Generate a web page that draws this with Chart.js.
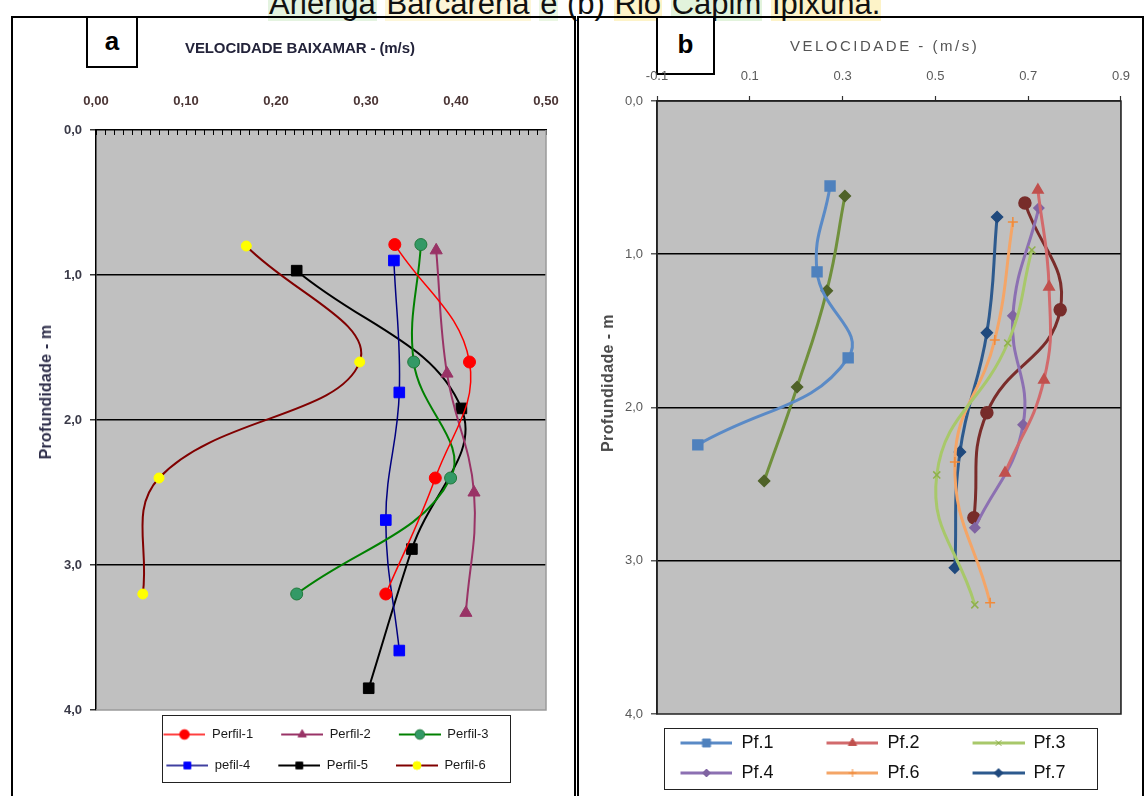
<!DOCTYPE html>
<html>
<head>
<meta charset="utf-8">
<script src="https://cdn.jsdelivr.net/npm/chart.js@4.4.1/dist/chart.umd.min.js"></script>
<style>
  html, body { margin:0; padding:0; background:#fff; width:1144px; height:796px; overflow:hidden; }
  #page { position:relative; width:1144px; height:796px; font-family:"Liberation Sans", Arial, sans-serif; }
  .frame { position:absolute; border:2px solid #000; box-sizing:border-box; }
  .tag { position:absolute; border:2px solid #000; box-sizing:border-box; background:#fff;
         font:bold 26px "Liberation Sans", Arial, sans-serif; text-align:center; color:#000; }
  .lbox { position:absolute; border:1.5px solid #222; box-sizing:border-box; background:#fff; }
  .txt { position:absolute; white-space:nowrap; }
  .rot { position:absolute; white-space:nowrap; transform:translate(-50%,-50%) rotate(-90deg); }
  canvas { position:absolute; }
  #caption { position:absolute; left:268px; top:-12px; font:31px "Liberation Sans", Arial, sans-serif; color:#111; white-space:nowrap; line-height:31px; }
  #caption span { padding:0 1px; }
</style>
</head>
<body>
<div id="page">
  <div id="caption"><span style="background:#e4f3e0">Arienga</span> <span style="background:#fdf6d8">Barcarena</span> <span style="background:#eaf6e2">e</span> (b) <span style="background:#fdf3c8">Rio</span> <span style="background:#e2f3dc">Capim</span> <span style="background:#fdf3c8">Ipixuna.</span></div>

  <div class="frame" style="left:11px; top:16px; width:565px; height:800px;"></div>
  <div class="frame" style="left:577px; top:16px; width:567px; height:800px;"></div>

  <div class="lbox" style="left:162px; top:715px; width:349px; height:68px;"></div>
  <div class="lbox" style="left:664px; top:728px; width:434px; height:62px;"></div>

  <div class="tag" style="left:86px; top:16px; width:52px; height:52px; line-height:46px;">a</div>
  <div class="tag" style="left:656px; top:16px; width:59px; height:59px; line-height:52px;">b</div>

  <canvas id="chartA" width="600" height="776" style="left:14px; top:20px;"></canvas>
  <canvas id="chartB" width="562" height="776" style="left:580px; top:20px;"></canvas>

  <div class="txt" style="left:185px; top:39px; font:bold 15px 'Liberation Sans Narrow','Liberation Sans',Arial,sans-serif; color:#23233a; letter-spacing:-0.1px;">VELOCIDADE BAIXAMAR - (m/s)</div>
  <div class="rot" style="left:46px; top:392px; font:bold 16px 'Liberation Sans Narrow','Liberation Sans',Arial,sans-serif; color:#2e2e4a; letter-spacing:0.2px;">Profundidade - m</div>

  <div class="txt" style="left:790px; top:37px; font:15px 'Liberation Sans',Arial,sans-serif; color:#555; letter-spacing:2.5px;">VELOCIDADE - (m/s)</div>
  <div class="rot" style="left:608px; top:383px; font:bold 16px 'Liberation Sans Narrow','Liberation Sans',Arial,sans-serif; color:#4a4a4a; letter-spacing:0.4px;">Profundidade - m</div>
</div>

<script>
// ================= DATA =================
// shared depth-axis tick labels (m)
const depthTickLabels = ['0,0', '1,0', '2,0', '3,0', '4,0'];

// ---- panel (a): VELOCIDADE BAIXAMAR (m/s) vs depth (m) ----
const velTickLabelsA = ['0,00', '0,10', '0,20', '0,30', '0,40', '0,50'];
const seriesNamesA = ['Perfil-1', 'Perfil-2', 'Perfil-3', 'pefil-4', 'Perfil-5', 'Perfil-6'];

const perfil1Vel   = [0.332, 0.415, 0.377, 0.322];
const perfil1Depth = [0.79, 1.60, 2.40, 3.20];
const perfil2Vel   = [0.378, 0.390, 0.420, 0.411];
const perfil2Depth = [0.83, 1.68, 2.50, 3.33];
const perfil3Vel   = [0.361, 0.353, 0.394, 0.223];
const perfil3Depth = [0.79, 1.60, 2.40, 3.20];
const perfil4Vel   = [0.331, 0.337, 0.322, 0.337];
const perfil4Depth = [0.90, 1.81, 2.69, 3.59];
const perfil5Vel   = [0.223, 0.406, 0.351, 0.303];
const perfil5Depth = [0.97, 1.92, 2.89, 3.85];
const perfil6Vel   = [0.167, 0.293, 0.070, 0.052];
const perfil6Depth = [0.80, 1.60, 2.40, 3.20];

// ---- panel (b): VELOCIDADE (m/s) vs depth (m) ----
const velTickLabelsB = ['-0.1', '0.1', '0.3', '0.5', '0.7', '0.9'];
const seriesNamesB = ['Pf.1', 'Pf.2', 'Pf.3', 'Pf.4', 'Pf.6', 'Pf.7', 'Pf.5', 'Pf.8'];
const legendShownB = [true, true, true, true, true, true, false, false];

const pf1Vel   = [0.273, 0.245, 0.312, -0.012];
const pf1Depth = [0.555, 1.115, 1.676, 2.244];
const pf2Vel   = [0.721, 0.745, 0.734, 0.650];
const pf2Depth = [0.581, 1.213, 1.820, 2.427];
const pf3Vel   = [0.708, 0.656, 0.503, 0.585];
const pf3Depth = [0.972, 1.579, 2.440, 3.288];
const pf4Vel   = [0.723, 0.667, 0.689, 0.585];
const pf4Depth = [0.698, 1.402, 2.113, 2.785];
const pf6Vel   = [0.667, 0.628, 0.542, 0.618];
const pf6Depth = [0.789, 1.559, 2.355, 3.275];
const pf7Vel   = [0.633, 0.611, 0.553, 0.542];
const pf7Depth = [0.757, 1.513, 2.290, 3.046];
const pf5Vel   = [0.693, 0.769, 0.611, 0.583];
const pf5Depth = [0.665, 1.363, 2.035, 2.720];
const pf8Vel   = [0.305, 0.266, 0.202, 0.131];
const pf8Depth = [0.620, 1.239, 1.866, 2.479];

// ================= STYLES =================
const styleA = [
  { line:'#FF0000', w:1.5, mk:'circle',   r:6,   fill:'#FF0000', edge:'#FF0000' },
  { line:'#993366', w:2,   mk:'triangle', r:7,   fill:'#993366', edge:'#993366' },
  { line:'#008000', w:2,   mk:'circle',   r:6,   fill:'#339966', edge:'#1f7a3a' },
  { line:'#000080', w:1.5, mk:'rect',     r:7.5, fill:'#0000FF', edge:'#0000FF' },
  { line:'#000000', w:2,   mk:'rect',     r:7.5, fill:'#000000', edge:'#000000' },
  { line:'#800000', w:2,   mk:'circle',   r:5,   fill:'#FFFF00', edge:'#FFFF00' }
];
const styleB = [
  { line:'#5A8AC6', w:3, mk:'rect',     r:7,   fill:'#4F81BD', edge:'#4F81BD' },
  { line:'#D26A6C', w:3, mk:'triangle', r:6,   fill:'#C0504D', edge:'#C0504D' },
  { line:'#A8C86A', w:3, mk:'crossRot', r:5,   fill:'#9BBB59', edge:'#8FB04C' },
  { line:'#8C70B2', w:3, mk:'rectRot',  r:5,   fill:'#8064A2', edge:'#8064A2' },
  { line:'#F4A567', w:3, mk:'cross',    r:5,   fill:'#F79646', edge:'#F08A3A' },
  { line:'#2D5A8E', w:3, mk:'rectRot',  r:5.5, fill:'#1F497D', edge:'#1F497D' },
  { line:'#7A2C2A', w:3, mk:'circle',   r:6,   fill:'#772C2A', edge:'#772C2A' },
  { line:'#70903C', w:3, mk:'rectRot',  r:5.5, fill:'#4F6228', edge:'#4F6228' }
];

// ================= HELPERS =================
function pairs(vel, depth) { return vel.map((v, i) => ({ x: v, y: depth[i] })); }

function legendImage(width, height, blank, st) {
  const c = document.createElement('canvas');
  c.width = width; c.height = height;
  const g = c.getContext('2d');
  const y = height / 2;
  g.strokeStyle = st.line; g.lineWidth = st.w;
  g.beginPath(); g.moveTo(blank, y); g.lineTo(width, y); g.stroke();
  g.fillStyle = st.fill; g.strokeStyle = st.edge; g.lineWidth = 1;
  const r = Math.min(st.r, height / 2 - 1) * 0.8;
  if (Chart.helpers && Chart.helpers.drawPoint) {
    Chart.helpers.drawPoint(g, { pointStyle: st.mk, radius: r, rotation: 0, borderWidth: 1.5 }, (blank + width) / 2, y);
  } else {
    g.beginPath(); g.arc((blank + width) / 2, y, r, 0, Math.PI * 2); g.fill();
  }
  return c;
}

const plotFrame = {
  id: 'plotFrame',
  beforeDraw(chart, args, o) {
    const { ctx, chartArea: a } = chart;
    ctx.save();
    ctx.fillStyle = o.bg;
    ctx.fillRect(a.left, a.top, a.right - a.left, a.bottom - a.top);
    ctx.restore();
  },
  afterDatasetsDraw(chart, args, o) {
    const { ctx, chartArea: a } = chart;
    ctx.save();
    ctx.lineWidth = o.edgeWidth;
    ctx.strokeStyle = o.edge;
    ctx.beginPath();
    if (o.full) {
      ctx.rect(a.left, a.top, a.right - a.left, a.bottom - a.top);
    } else {
      ctx.moveTo(a.right, a.top); ctx.lineTo(a.right, a.bottom); ctx.lineTo(a.left, a.bottom);
    }
    ctx.stroke();
    ctx.restore();
  }
};

const narrow = '"Liberation Sans Narrow", "Liberation Sans", Arial, sans-serif';
const sans = '"Liberation Sans", Arial, sans-serif';
const innerGrid = c => (c.tick && c.tick.value > 0.01 && c.tick.value < 3.99) ? '#000' : 'rgba(0,0,0,0)';

// ================= PANEL A =================
const seriesA = [
  pairs(perfil1Vel, perfil1Depth), pairs(perfil2Vel, perfil2Depth), pairs(perfil3Vel, perfil3Depth),
  pairs(perfil4Vel, perfil4Depth), pairs(perfil5Vel, perfil5Depth), pairs(perfil6Vel, perfil6Depth)
];
const legendImgsA = styleA.map(s => legendImage(52, 14, 10, s));

new Chart(document.getElementById('chartA'), {
  type: 'scatter',
  data: {
    datasets: seriesA.map((d, i) => ({
      label: seriesNamesA[i], data: d, showLine: true, tension: 0.4,
      borderColor: styleA[i].line, borderWidth: styleA[i].w,
      backgroundColor: styleA[i].fill, pointBackgroundColor: styleA[i].fill,
      pointBorderColor: styleA[i].edge, pointBorderWidth: 1,
      pointStyle: styleA[i].mk, pointRadius: styleA[i].r, pointHoverRadius: styleA[i].r
    }))
  },
  options: {
    responsive: false, animation: false, events: [], devicePixelRatio: 1,
    layout: { padding: { left: 12, right: 68, top: 0, bottom: 14 } },
    scales: {
      x: {
        type: 'linear', position: 'top', min: 0, max: 0.5,
        afterFit: s => { s.height = 110; },
        ticks: {
          stepSize: 0.01, autoSkip: false, maxRotation: 0, padding: 26,
          color: '#4a3434', font: { family: narrow, size: 13, weight: 'bold' },
          callback: v => {
            const k = Math.round(v * 100);
            return k % 10 === 0 ? velTickLabelsA[k / 10] : '';
          }
        },
        grid: { drawOnChartArea: false, drawTicks: true, tickLength: -5, tickColor: '#000', tickWidth: 1 },
        border: { color: '#000', width: 1.5 }
      },
      y: {
        type: 'linear', reverse: true, min: 0, max: 4,
        afterFit: s => { s.width = 70; },
        ticks: {
          stepSize: 1, padding: 8, color: '#3a3a48', font: { family: narrow, size: 13, weight: 'bold' },
          callback: v => depthTickLabels[Math.round(v)]
        },
        grid: { color: innerGrid, lineWidth: 1.6, drawTicks: true, tickLength: 6, tickColor: '#000', tickWidth: 1.2 },
        border: { color: '#000', width: 1.5 }
      }
    },
    plugins: {
      plotFrame: { bg: '#C0C0C0', edge: '#9a9a9a', edgeWidth: 1.5, full: false },
      tooltip: { enabled: false },
      legend: {
        position: 'bottom', fullSize: false,
        labels: {
          usePointStyle: true, pointStyleWidth: 52, padding: 18,
          color: '#1a1a1a', font: { family: narrow, size: 13 },
          generateLabels: chart => {
            const items = Chart.defaults.plugins.legend.labels.generateLabels(chart);
            items.forEach(it => { it.pointStyle = legendImgsA[it.datasetIndex]; it.fontColor = '#1a1a1a'; });
            return items;
          }
        }
      }
    }
  },
  plugins: [plotFrame]
});

// ================= PANEL B =================
const seriesB = [
  pairs(pf1Vel, pf1Depth), pairs(pf2Vel, pf2Depth), pairs(pf3Vel, pf3Depth),
  pairs(pf4Vel, pf4Depth), pairs(pf6Vel, pf6Depth), pairs(pf7Vel, pf7Depth),
  pairs(pf5Vel, pf5Depth), pairs(pf8Vel, pf8Depth)
];
const legendImgsB = styleB.map(s => legendImage(93, 16, 41, s));

new Chart(document.getElementById('chartB'), {
  type: 'scatter',
  data: {
    datasets: seriesB.map((d, i) => ({
      label: seriesNamesB[i], data: d, showLine: true, tension: 0.45,
      borderColor: styleB[i].line, borderWidth: styleB[i].w,
      backgroundColor: styleB[i].fill, pointBackgroundColor: styleB[i].fill,
      pointBorderColor: styleB[i].edge, pointBorderWidth: 1.5,
      pointStyle: styleB[i].mk, pointRadius: styleB[i].r, pointHoverRadius: styleB[i].r
    }))
  },
  options: {
    responsive: false, animation: false, events: [], devicePixelRatio: 1,
    layout: { padding: { left: 4, right: 21, top: 0, bottom: 4 } },
    scales: {
      x: {
        type: 'linear', position: 'top', min: -0.1, max: 0.9,
        afterFit: s => { s.height = 81; },
        ticks: {
          stepSize: 0.2, autoSkip: false, maxRotation: 0, padding: 12,
          color: '#5a5a5a', font: { family: sans, size: 13 },
          callback: (v, i) => velTickLabelsB[i]
        },
        grid: { drawOnChartArea: false, drawTicks: true, tickLength: 5, tickColor: '#333', tickWidth: 1.2 },
        border: { color: '#222', width: 1.5 }
      },
      y: {
        type: 'linear', reverse: true, min: 0, max: 4,
        afterFit: s => { s.width = 73; },
        ticks: {
          stepSize: 1, padding: 8, color: '#5a5a5a', font: { family: narrow, size: 13 },
          callback: v => depthTickLabels[Math.round(v)]
        },
        grid: { color: innerGrid, lineWidth: 1.6, drawTicks: true, tickLength: 6, tickColor: '#333', tickWidth: 1.2 },
        border: { color: '#222', width: 1.5 }
      }
    },
    plugins: {
      plotFrame: { bg: '#C0C0C0', edge: '#222', edgeWidth: 1.6, full: true },
      tooltip: { enabled: false },
      legend: {
        position: 'bottom',
        title: { display: true, text: '', padding: 0, font: { size: 6.7 } },
        labels: {
          usePointStyle: true, pointStyleWidth: 93, padding: 12,
          color: '#111', font: { family: sans, size: 18 },
          filter: item => legendShownB[item.datasetIndex],
          generateLabels: chart => {
            const items = Chart.defaults.plugins.legend.labels.generateLabels(chart);
            items.forEach(it => { it.pointStyle = legendImgsB[it.datasetIndex]; it.fontColor = '#111'; });
            return items;
          }
        }
      }
    }
  },
  plugins: [plotFrame]
});
</script>
</body>
</html>
